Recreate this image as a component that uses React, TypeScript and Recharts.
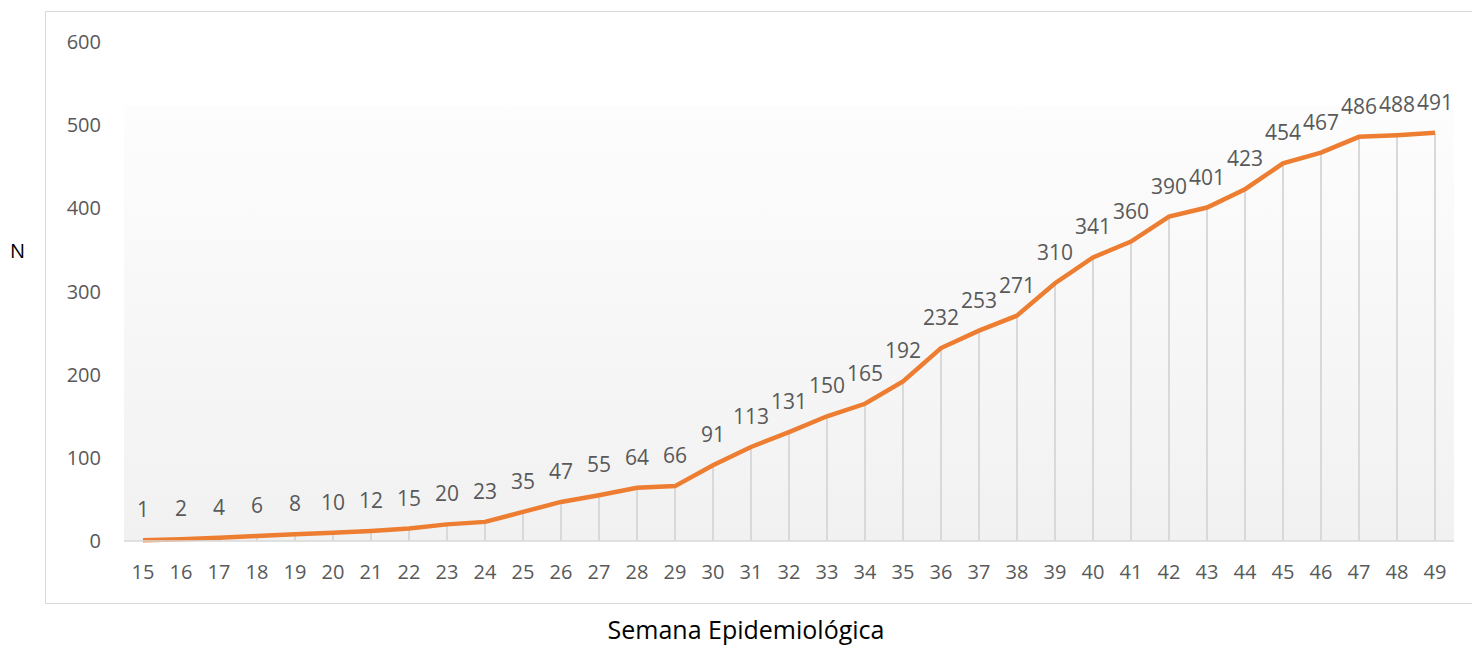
import { Bar, ComposedChart, Label, LabelList, Line, ReferenceArea, XAxis, YAxis } from 'recharts'

const semanas = [
  '15', '16', '17', '18', '19', '20', '21', '22', '23', '24', '25', '26', '27', '28', '29', '30', '31', '32',
  '33', '34', '35', '36', '37', '38', '39', '40', '41', '42', '43', '44', '45', '46', '47', '48', '49',
]
const casos = [
  1, 2, 4, 6, 8, 10, 12, 15, 20, 23, 35, 47, 55, 64, 66, 91, 113, 131, 150, 165, 192, 232, 253, 271, 310,
  341, 360, 390, 401, 423, 454, 467, 486, 488, 491,
]
const yTicks = [0, 100, 200, 300, 400, 500, 600]

const data = semanas.map((semana, i) => ({ semana, casos: casos[i] }))

const font = '"Open Sans", sans-serif'
const textColor = '#595959'
const grey = '#d9d9d9'

export default function App() {
  return (
    <div style={{ position: 'absolute', left: 0, top: 0, width: 1472, height: 646, background: '#fff', fontFamily: font }}>
      <div
        style={{
          position: 'absolute',
          left: 45,
          top: 11,
          width: 1440,
          height: 591,
          border: `1px solid ${grey}`,
        }}
      />
      <ComposedChart
        width={1472}
        height={646}
        data={data}
        margin={{ top: 42, right: 18, left: 0, bottom: 45 }}
        style={{ position: 'absolute', left: 0, top: 0 }}
      >
        <defs>
          <linearGradient id="bg" x1="0" y1="0" x2="0" y2="1">
            <stop offset="0%" stopColor="#fdfdfd" />
            <stop offset="100%" stopColor="#f1f1f1" />
          </linearGradient>
        </defs>
        <XAxis
          dataKey="semana"
          height={60}
          tickLine={false}
          axisLine={{ stroke: grey, strokeWidth: 1.5 }}
          tickMargin={18}
          tick={{ fill: textColor, fontSize: 20, fontFamily: font }}
          interval={0}
        >
          <Label
            value="Semana Epidemiológica"
            position="bottom"
            offset={20}
            dx={-43}
            style={{ fill: '#000', fontSize: 25, fontFamily: font }}
          />
        </XAxis>
        <YAxis
          width={124}
          domain={[0, 600]}
          ticks={yTicks}
          axisLine={false}
          tickLine={false}
          tickMargin={17}
          tick={{ fill: textColor, fontSize: 20, fontFamily: font }}
        >
          <Label value="N" position="insideLeft" offset={10} dy={-41} style={{ fill: '#000', fontSize: 20, fontFamily: font }} />
        </YAxis>
        <ReferenceArea y1={0} y2={524} fill="url(#bg)" fillOpacity={1} stroke="none" />
        <Bar dataKey="casos" barSize={2} fill={grey} isAnimationActive={false} />
        <Line
          type="linear"
          dataKey="casos"
          stroke="#ed7d31"
          strokeWidth={4.5}
          dot={false}
          activeDot={false}
          isAnimationActive={false}
        >
          <LabelList dataKey="casos" position="top" offset={23} fill={textColor} fontSize={21} fontFamily={font} />
        </Line>
      </ComposedChart>
    </div>
  )
}
